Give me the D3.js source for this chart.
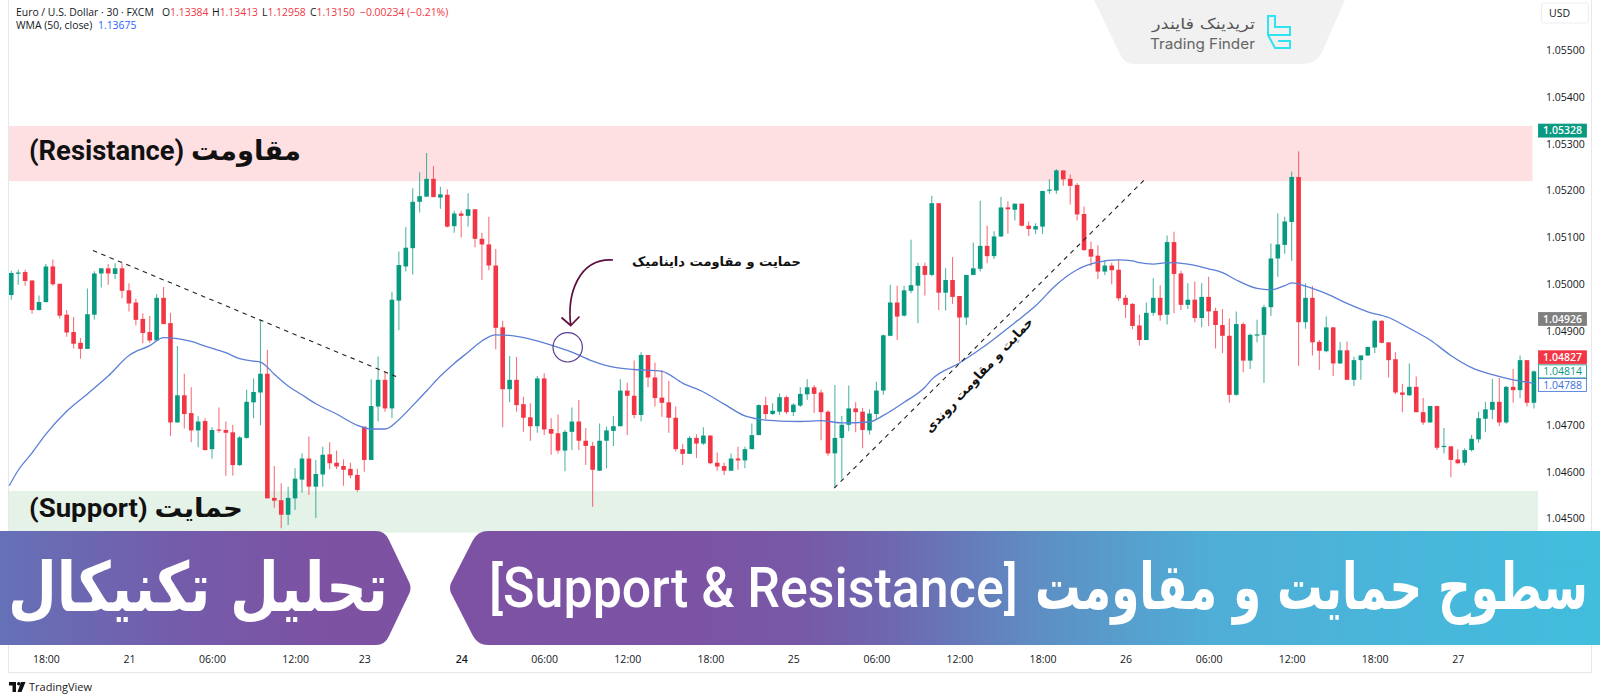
<!DOCTYPE html>
<html>
<head>
<meta charset="utf-8">
<script src="https://cdn.jsdelivr.net/npm/d3@7"></script>
<style>
  body { margin: 0; background: #fff; }
  text { font-family: "Open Sans", sans-serif; }
  .fa { font-family: "DejaVu Sans", sans-serif; font-weight: bold; }
  .mixed { font-family: Roboto, "DejaVu Sans", sans-serif; font-weight: bold; }
</style>
</head>
<body>
<div id="chart"></div>
<script>
// candle values, one entry per 30 minute bar
var opens = [
1.04977,1.05024,1.05026,1.05008,1.04945,1.04962,1.05038,1.05001,1.04935,1.04898,
1.04875,1.04862,1.04935,1.05023,1.05034,1.05022,1.05034,1.04987,1.04961,1.04926,
1.04898,1.04880,1.04971,1.04917,1.04705,1.04763,1.04725,1.04688,1.04708,1.04648,
1.04690,1.04689,1.04684,1.04614,1.04672,1.04748,1.04769,1.04809,1.04544,1.04539,
1.04508,1.04543,1.04583,1.04628,1.04568,1.04594,1.04637,1.04619,1.04612,1.04606,
1.04593,1.04696,1.04625,1.04739,1.04796,1.04735,1.04965,1.05038,1.05077,1.05176,
1.05187,1.05225,1.05185,1.05191,1.05124,1.05151,1.05146,1.05160,1.05097,1.05085,
1.05040,1.04908,1.04776,1.04796,1.04744,1.04716,1.04697,1.04799,1.04691,1.04682,
1.04645,1.04685,1.04707,1.04666,1.04655,1.04602,1.04666,1.04687,1.04697,1.04773,
1.04762,1.04721,1.04849,1.04801,1.04758,1.04748,1.04715,1.04648,1.04638,1.04672,
1.04660,1.04677,1.04619,1.04612,1.04602,1.04628,1.04624,1.04648,1.04678,1.04742,
1.04723,1.04728,1.04759,1.04727,1.04741,1.04765,1.04780,1.04769,1.04728,1.04639,
1.04672,1.04700,1.04735,1.04728,1.04688,1.04723,1.04773,1.04890,1.04961,1.04933,
1.04986,1.04997,1.05039,1.05020,1.05173,1.04982,1.05009,1.04975,1.04929,1.05020,
1.05033,1.05082,1.05060,1.05102,1.05164,1.05159,1.05172,1.05125,1.05117,1.05123,
1.05200,1.05200,1.05243,1.05225,1.05212,1.05150,1.05075,1.05061,1.05027,1.05040,
1.05031,1.04971,1.04958,1.04912,1.04881,1.04939,1.04971,1.04935,1.05090,1.05023,
1.04956,1.04967,1.04928,1.04973,1.04943,1.04913,1.04890,1.04764,1.04915,1.04837,
1.04891,1.04892,1.04951,1.05055,1.05084,1.05133,1.05229,1.04919,1.04971,1.04877,
1.04857,1.04908,1.04831,1.04859,1.04796,1.04838,1.04848,1.04865,1.04922,1.04876,
1.04840,1.04769,1.04763,1.04781,1.04727,1.04705,1.04740,1.04653,1.04654,1.04626,
1.04619,1.04646,1.04669,1.04713,1.04732,1.04749,1.04705,1.04781,1.04774,1.04838,
1.04747];
var highs = [
1.05029,1.05031,1.05031,1.05009,1.04976,1.05043,1.05053,1.05001,1.04945,1.04930,
1.04885,1.04991,1.05028,1.05034,1.05043,1.05045,1.05045,1.05002,1.04969,1.04938,
1.04932,1.04979,1.04994,1.04939,1.04868,1.04809,1.04780,1.04718,1.04714,1.04695,
1.04737,1.04707,1.04700,1.04676,1.04775,1.04799,1.04923,1.04860,1.04612,1.04575,
1.04568,1.04607,1.04639,1.04675,1.04625,1.04653,1.04663,1.04645,1.04626,1.04619,
1.04606,1.04696,1.04797,1.04846,1.04815,1.04984,1.05070,1.05122,1.05205,1.05239,
1.05280,1.05252,1.05208,1.05203,1.05157,1.05157,1.05194,1.05160,1.05110,1.05144,
1.05075,1.04922,1.04847,1.04845,1.04760,1.04746,1.04804,1.04810,1.04714,1.04722,
1.04689,1.04737,1.04753,1.04693,1.04664,1.04703,1.04696,1.04719,1.04797,1.04790,
1.04837,1.04855,1.04849,1.04833,1.04817,1.04794,1.04739,1.04659,1.04676,1.04680,
1.04695,1.04678,1.04641,1.04619,1.04639,1.04653,1.04653,1.04703,1.04744,1.04760,
1.04746,1.04767,1.04762,1.04746,1.04780,1.04797,1.04785,1.04775,1.04731,1.04785,
1.04719,1.04784,1.04748,1.04736,1.04733,1.04792,1.04893,1.04999,1.04997,1.04997,
1.05095,1.05046,1.05046,1.05189,1.05173,1.05034,1.05058,1.04975,1.05020,1.05089,
1.05178,1.05125,1.05113,1.05186,1.05177,1.05172,1.05172,1.05134,1.05130,1.05200,
1.05224,1.05246,1.05243,1.05234,1.05216,1.05166,1.05091,1.05083,1.05052,1.05046,
1.05052,1.04977,1.04960,1.04935,1.04961,1.05013,1.04998,1.05104,1.05112,1.05029,
1.05002,1.05006,1.05002,1.05016,1.04950,1.04947,1.04927,1.04942,1.04919,1.04895,
1.04924,1.04956,1.05087,1.05151,1.05144,1.05240,1.05284,1.05002,1.04996,1.04881,
1.04931,1.04908,1.04877,1.04878,1.04845,1.04848,1.04867,1.04924,1.04923,1.04876,
1.04855,1.04787,1.04831,1.04803,1.04757,1.04740,1.04741,1.04693,1.04654,1.04648,
1.04650,1.04678,1.04728,1.04749,1.04798,1.04800,1.04783,1.04819,1.04848,1.04838,
1.04816];
var lows = [
1.04967,1.04999,1.04997,1.04937,1.04944,1.04961,1.04997,1.04927,1.04888,1.04863,
1.04841,1.04862,1.04925,1.04993,1.04999,1.05011,1.04970,1.04942,1.04912,1.04874,
1.04875,1.04880,1.04915,1.04676,1.04705,1.04692,1.04663,1.04652,1.04645,1.04628,
1.04683,1.04591,1.04592,1.04612,1.04670,1.04714,1.04699,1.04543,1.04523,1.04479,
1.04486,1.04518,1.04555,1.04550,1.04501,1.04568,1.04605,1.04605,1.04570,1.04586,
1.04557,1.04600,1.04625,1.04707,1.04728,1.04714,1.04902,1.05027,1.05021,1.05153,
1.05187,1.05186,1.05161,1.05121,1.05110,1.05100,1.05123,1.05079,1.05009,1.05030,
1.04861,1.04695,1.04748,1.04728,1.04685,1.04666,1.04683,1.04678,1.04636,1.04639,
1.04601,1.04646,1.04646,1.04614,1.04525,1.04602,1.04607,1.04655,1.04697,1.04678,
1.04714,1.04707,1.04780,1.04739,1.04717,1.04683,1.04643,1.04614,1.04638,1.04629,
1.04657,1.04616,1.04602,1.04593,1.04602,1.04604,1.04607,1.04648,1.04678,1.04712,
1.04721,1.04721,1.04723,1.04719,1.04738,1.04753,1.04725,1.04667,1.04634,1.04565,
1.04584,1.04686,1.04684,1.04650,1.04679,1.04713,1.04764,1.04889,1.04881,1.04931,
1.04981,1.04917,1.04976,1.05017,1.04945,1.04944,1.04958,1.04835,1.04913,1.05019,
1.05027,1.05045,1.05054,1.05101,1.05108,1.05136,1.05123,1.05103,1.05107,1.05107,
1.05193,1.05193,1.05210,1.05170,1.05136,1.05071,1.05039,1.05011,1.05020,1.05000,
1.04965,1.04928,1.04904,1.04869,1.04881,1.04933,1.04922,1.04914,1.04938,1.04945,
1.04947,1.04919,1.04908,1.04911,1.04863,1.04853,1.04747,1.04762,1.04812,1.04819,
1.04876,1.04790,1.04932,1.05016,1.05065,1.05050,1.04826,1.04905,1.04848,1.04817,
1.04855,1.04804,1.04830,1.04796,1.04783,1.04796,1.04847,1.04853,1.04874,1.04801,
1.04765,1.04727,1.04762,1.04726,1.04700,1.04705,1.04646,1.04639,1.04588,1.04616,
1.04613,1.04643,1.04662,1.04685,1.04712,1.04697,1.04702,1.04747,1.04757,1.04739,
1.04735];
var closes = [
1.05024,1.05025,1.05007,1.04945,1.04962,1.05038,1.05000,1.04933,1.04897,1.04873,
1.04862,1.04936,1.05023,1.05034,1.05023,1.05034,1.04986,1.04959,1.04924,1.04896,
1.04880,1.04971,1.04915,1.04705,1.04763,1.04723,1.04688,1.04707,1.04646,1.04689,
1.04688,1.04683,1.04614,1.04673,1.04749,1.04770,1.04809,1.04543,1.04538,1.04508,
1.04544,1.04585,1.04628,1.04568,1.04595,1.04636,1.04618,1.04611,1.04604,1.04592,
1.04561,1.04625,1.04740,1.04796,1.04735,1.04967,1.05041,1.05078,1.05176,1.05188,
1.05225,1.05186,1.05192,1.05123,1.05151,1.05146,1.05160,1.05097,1.05085,1.05040,
1.04907,1.04776,1.04796,1.04742,1.04715,1.04697,1.04799,1.04690,1.04681,1.04645,
1.04685,1.04707,1.04666,1.04655,1.04604,1.04666,1.04688,1.04697,1.04773,1.04762,
1.04721,1.04849,1.04801,1.04757,1.04747,1.04715,1.04648,1.04638,1.04672,1.04660,
1.04677,1.04618,1.04611,1.04602,1.04628,1.04624,1.04648,1.04678,1.04742,1.04723,
1.04730,1.04759,1.04727,1.04743,1.04766,1.04780,1.04766,1.04727,1.04639,1.04672,
1.04700,1.04735,1.04727,1.04689,1.04724,1.04773,1.04891,1.04961,1.04931,1.04987,
1.04998,1.05039,1.05020,1.05173,1.04982,1.05009,1.04973,1.04929,1.05020,1.05034,
1.05082,1.05060,1.05102,1.05164,1.05160,1.05172,1.05125,1.05118,1.05124,1.05199,
1.05202,1.05243,1.05224,1.05210,1.05149,1.05073,1.05059,1.05027,1.05040,1.05030,
1.04970,1.04956,1.04911,1.04881,1.04939,1.04971,1.04934,1.05090,1.05022,1.04956,
1.04967,1.04928,1.04973,1.04942,1.04913,1.04890,1.04764,1.04915,1.04837,1.04892,
1.04893,1.04951,1.05055,1.05085,1.05134,1.05229,1.04919,1.04971,1.04876,1.04858,
1.04908,1.04831,1.04859,1.04796,1.04838,1.04848,1.04866,1.04922,1.04875,1.04838,
1.04769,1.04764,1.04781,1.04727,1.04705,1.04740,1.04651,1.04655,1.04625,1.04618,
1.04646,1.04670,1.04714,1.04733,1.04749,1.04705,1.04781,1.04774,1.04838,1.04747,
1.04814];

// WMA (50) read at these bar numbers
var wmaBars = [-0.3,1,3,5,8,11,14,17,20,22,24,26,28,31,33,35,36,38,40,42,44,47,50,52,54,56,58,60,62,64,66,68,70,72,75,78,81,84,87,90,94,97,100,103,106,108,111,114,117,120,124,126,129,132,133,137,141,145,148,151,154,157,160,162,163,165,167,170,173,175,177,180,182,184,185,187,190,193,196,199,202,205,208,211,214,217,219,220];
var wmaValues = [1.04570,1.04603,1.04640,1.04680,1.04729,1.04766,1.04804,1.04848,1.04869,1.04886,1.04884,1.04878,1.04868,1.04854,1.04841,1.04836,1.04834,1.04808,1.04783,1.04764,1.04745,1.04723,1.04699,1.04691,1.04691,1.04711,1.04741,1.04772,1.04804,1.04831,1.04855,1.04879,1.04892,1.04891,1.04883,1.04870,1.04855,1.04836,1.04823,1.04818,1.04814,1.04789,1.04770,1.04744,1.04719,1.04712,1.04708,1.04707,1.04709,1.04704,1.04706,1.04720,1.04748,1.04780,1.04797,1.04832,1.04872,1.04918,1.04954,1.04999,1.05031,1.05047,1.05052,1.05050,1.05046,1.05043,1.05046,1.05043,1.05033,1.05025,1.05009,1.04991,1.04988,1.04997,1.05003,1.04996,1.04980,1.04959,1.04941,1.04929,1.04906,1.04881,1.04848,1.04822,1.04807,1.04796,1.04791,1.04788];

var timeBars = [5,17,29,41,51,65,77,89,101,113,125,137,149,161,173,185,197,209];
var timeLabels = ["18:00","21","06:00","12:00","23","24","06:00","12:00","18:00","25","06:00","12:00","18:00","26","06:00","12:00","18:00","27"];
var priceTicks = [1.055,1.054,1.053,1.052,1.051,1.05,1.049,1.047,1.046,1.045,1.044,1.043];

var resistanceZone = [1.05338,1.0522];
var supportZone = [1.04559,1.0447];
var trendDown = [[11.8,1.05072],[55.6,1.04803]];
var trendUp = [[118.9,1.04565],[164,1.05227]];

var width = 1600;
var height = 700;
var GREEN = "#089981";
var RED = "#f23645";
var BLUE = "#5b7fd6";

// stretches a start anchored text so that it runs from x0 to x1
function fitText(sel, x0, x1, y) {
    var w = sel.node().getComputedTextLength();
    sel.attr("transform", "translate(" + x0 + "," + y + ") scale(" + ((x1 - x0) / w) + ",1)");
    return sel;
}

document.addEventListener('DOMContentLoaded', function () {
    var svg = d3.select("#chart").append("svg")
        .attr("width", width).attr("height", height)
        .style("display", "block");

    var xScale = d3.scaleLinear().domain([0, 220]).range([11.3, 1533.9]);
    var yScale = d3.scaleLinear().domain([1.043, 1.055]).range([612.2, 50]);

    var defs = svg.append("defs");
    function gradient(id, x1, x2, stops) {
        var g = defs.append("linearGradient").attr("id", id)
            .attr("gradientUnits", "userSpaceOnUse")
            .attr("x1", x1).attr("x2", x2).attr("y1", 0).attr("y2", 0);
        stops.forEach(function (s) {
            g.append("stop").attr("offset", s[0]).attr("stop-color", s[1]);
        });
    }
    gradient("leftBanner", 0, 410, [[0, "#636fb6"], [0.45, "#7259a9"], [0.8, "#7b4fa1"], [1, "#7b4fa1"]]);
    gradient("rightBanner", 449, 1600, [[0, "#7b4fa2"], [0.22, "#7a51a3"], [0.305, "#7556a6"], [0.39, "#6b67af"], [0.526, "#5a90c4"], [0.66, "#4dacd6"], [1, "#3fbddd"]]);

    // frame of the chart
    svg.append("rect").attr("x", 8.5).attr("y", -2).attr("width", 1583).attr("height", 674.5)
        .attr("fill", "none").attr("stroke", "#e6e8ee");

    // price zones
    svg.append("rect").attr("x", 9).attr("width", 1523.5)
        .attr("y", yScale(resistanceZone[0]))
        .attr("height", yScale(resistanceZone[1]) - yScale(resistanceZone[0]))
        .attr("fill", "#fee0e3");
    svg.append("rect").attr("x", 9).attr("width", 1529)
        .attr("y", yScale(supportZone[0]))
        .attr("height", yScale(supportZone[1]) - yScale(supportZone[0]))
        .attr("fill", "#e5f2e7");

    // candles
    var bars = d3.range(opens.length);
    svg.append("g").selectAll("line").data(bars).enter().append("line")
        .attr("x1", function (i) { return xScale(i); })
        .attr("x2", function (i) { return xScale(i); })
        .attr("y1", function (i) { return yScale(highs[i]); })
        .attr("y2", function (i) { return yScale(lows[i]); })
        .attr("stroke", function (i) { return closes[i] >= opens[i] ? GREEN : RED; })
        .attr("stroke-opacity", 0.7)
        .attr("stroke-width", 1.1);
    svg.append("g").selectAll("rect").data(bars).enter().append("rect")
        .attr("x", function (i) { return xScale(i) - 2.3; })
        .attr("width", 4.6)
        .attr("y", function (i) { return yScale(Math.max(opens[i], closes[i])); })
        .attr("height", function (i) { return Math.max(1.2, Math.abs(yScale(opens[i]) - yScale(closes[i]))); })
        .attr("fill", function (i) { return closes[i] >= opens[i] ? GREEN : RED; });

    // WMA line
    var wmaLine = d3.line()
        .x(function (i) { return xScale(wmaBars[i]); })
        .y(function (i) { return yScale(wmaValues[i]); })
        .curve(d3.curveMonotoneX);
    svg.append("path").attr("d", wmaLine(d3.range(wmaBars.length)))
        .attr("fill", "none").attr("stroke", BLUE).attr("stroke-width", 1.3);

    // trend lines
    [trendDown, trendUp].forEach(function (t) {
        svg.append("line")
            .attr("x1", xScale(t[0][0])).attr("y1", yScale(t[0][1]))
            .attr("x2", xScale(t[1][0])).attr("y2", yScale(t[1][1]))
            .attr("stroke", "#222").attr("stroke-width", 1.1)
            .attr("stroke-dasharray", "4.5 4.5");
    });

    // price axis
    var yAxis = svg.append("g").attr("transform", "translate(1537,0)")
        .call(d3.axisRight(yScale).tickValues(priceTicks).tickFormat(d3.format(".5f")).tickSize(0).tickPadding(9));
    yAxis.select(".domain").remove();
    yAxis.selectAll("text").attr("font-size", 10.5).attr("fill", "#131722")
        .style("font-family", '"Open Sans", sans-serif');

    // time axis
    var xAxis = svg.append("g").attr("transform", "translate(0,652)")
        .call(d3.axisBottom(xScale).tickValues(timeBars)
            .tickFormat(function (d, i) { return timeLabels[i]; }).tickSize(0).tickPadding(4));
    xAxis.select(".domain").remove();
    xAxis.selectAll("text").attr("font-size", 10.5).attr("fill", "#131722")
        .style("font-family", '"Open Sans", sans-serif')
        .attr("font-weight", function (d, i) { return timeLabels[i] === "24" ? "600" : "normal"; });

    // price labels on the axis
    var badges = [
        { price: 1.05328, text: "#fff", back: GREEN, line: GREEN, nudge: 0 },
        { price: 1.04926, text: "#fff", back: "#7f7f7f", line: "#7f7f7f", nudge: 0 },
        { price: 1.04827, text: "#fff", back: RED, line: RED, nudge: -8 },
        { price: 1.04814, text: GREEN, back: "#fff", line: GREEN, nudge: 0 },
        { price: 1.04788, text: "#3c6fd8", back: "#fff", line: "#3c6fd8", nudge: 1.5 }
    ];
    badges.forEach(function (b) {
        var cy = yScale(b.price) + b.nudge;
        svg.append("rect").attr("x", 1538.5).attr("y", cy - 6.5).attr("width", 48).attr("height", 13)
            .attr("fill", b.back).attr("stroke", b.line).attr("stroke-width", 0.8);
        svg.append("text").attr("x", 1582).attr("y", cy + 3.8).attr("text-anchor", "end")
            .attr("font-size", 10.5).attr("font-weight", b.back === "#fff" ? "normal" : "600")
            .attr("fill", b.text).text(d3.format(".5f")(b.price));
    });
    svg.append("rect").attr("x", 1541.5).attr("y", 3).attr("width", 47).attr("height", 20).attr("rx", 2)
        .attr("fill", "#fff").attr("stroke", "#eceef2");
    svg.append("text").attr("x", 1549).attr("y", 17).attr("font-size", 10.5).attr("fill", "#131722").text("USD");

    // header text
    var head = svg.append("text").attr("y", 15.5).attr("font-size", 10.4).attr("fill", "#131722");
    head.append("tspan").attr("x", 16).text("Euro / U.S. Dollar · 30 · FXCM");
    [["O", "1.13384", 162], ["H", "1.13413", 212], ["L", "1.12958", 262], ["C", "1.13150", 310]].forEach(function (p) {
        head.append("tspan").attr("x", p[2]).text(p[0]);
        head.append("tspan").attr("fill", RED).text(p[1]);
    });
    head.append("tspan").attr("x", 360).attr("fill", RED).text("−0.00234 (−0.21%)");
    var wmaHead = svg.append("text").attr("y", 29).attr("font-size", 10.4).attr("fill", "#131722");
    wmaHead.append("tspan").attr("x", 16).text("WMA (50, close)");
    wmaHead.append("tspan").attr("x", 98).attr("fill", "#2962ff").text("1.13675");

    // zone names
    fitText(svg.append("text").attr("class", "mixed").attr("font-size", 28).attr("fill", "#111")
        .text("(Resistance) مقاومت"), 29, 301, 160);
    fitText(svg.append("text").attr("class", "mixed").attr("font-size", 26).attr("fill", "#111")
        .text("(Support) حمایت"), 29, 243, 517);

    // notes
    fitText(svg.append("text").attr("class", "fa").attr("font-size", 13).attr("fill", "#111")
        .text("حمایت و مقاومت داینامیک"), 632, 801, 266);
    svg.append("text").attr("class", "fa").attr("text-anchor", "middle")
        .attr("transform", "translate(982,378) rotate(-47)")
        .attr("font-size", 13).attr("textLength", 152).attr("lengthAdjust", "spacingAndGlyphs").attr("fill", "#111")
        .text("حمایت و مقاومت روندی");

    svg.append("circle").attr("cx", 567.7).attr("cy", 347.3).attr("r", 14.7)
        .attr("fill", "none").attr("stroke", "#5c3b8f").attr("stroke-width", 1.2);
    svg.append("path").attr("d", "M613 260 C578 258 567 295 570.7 325 M561.5 317.5 L570.7 325.5 L579.5 316.5")
        .attr("fill", "none").attr("stroke", "#5e0f3e").attr("stroke-width", 1.7);

    // logo at the top
    svg.append("path").attr("d", "M1094 0 L1345 0 L1322 52 Q1316 64 1304 64 L1134 64 Q1124 64 1120 54 Z").attr("fill", "#f1f1f1");
    fitText(svg.append("text").attr("class", "fa").style("font-weight", "normal")
        .attr("font-size", 15).attr("fill", "#555").text("تریدینک فایندر"), 1152, 1255, 29);
    fitText(svg.append("text").attr("font-size", 14.5).attr("fill", "#666")
        .style("font-family", "Inter, sans-serif").text("Trading Finder"), 1150, 1255, 49);
    svg.append("path").attr("d", "M1268 16 H1275 V27 H1290 V35 H1268 Z M1268 35 L1275 48 H1290 V41 H1278")
        .attr("fill", "none").attr("stroke", "#2fe3f0").attr("stroke-width", 2);

    // TradingView mark
    svg.append("path").attr("d", "M9 682 H16 V692 H12.5 V685.5 H9 Z M21 682 H25.5 L21.5 692 H17.5 Z").attr("fill", "#111");
    svg.append("circle").attr("cx", 18.8).attr("cy", 683.8).attr("r", 1.8).attr("fill", "#111");
    svg.append("text").attr("x", 29).attr("y", 691).attr("font-size", 11).attr("fill", "#222").text("TradingView");

    // title banners, nearly opaque so the low price labels just show through
    svg.append("path").attr("d", "M0 531 H376 Q385 531 389 540 L409.5 583 Q411.5 588 409.5 593 L389 636 Q385 645 376 645 H0 Z")
        .attr("fill", "url(#leftBanner)").attr("opacity", 0.985);
    svg.append("path").attr("d", "M1600 531 H488 Q478 531 473 540 L451 583 Q449 588 451 593 L473 636 Q478 645 488 645 H1600 Z")
        .attr("fill", "url(#rightBanner)").attr("opacity", 0.985);

    fitText(svg.append("text").attr("class", "fa").attr("font-size", 68).attr("fill", "#fff")
        .text("تحلیل تکنیکال"), 8, 388, 611);
    fitText(svg.append("text").attr("font-size", 56).attr("font-weight", 500)
        .style("font-family", "Roboto, sans-serif")
        .attr("fill", "#fff").text("[Support & Resistance]"), 489, 1018, 606.5);
    fitText(svg.append("text").attr("class", "fa").attr("font-size", 64).attr("fill", "#fff")
        .text("سطوح حمایت و مقاومت"), 1035, 1588, 609);
});
</script>
</body>
</html>
